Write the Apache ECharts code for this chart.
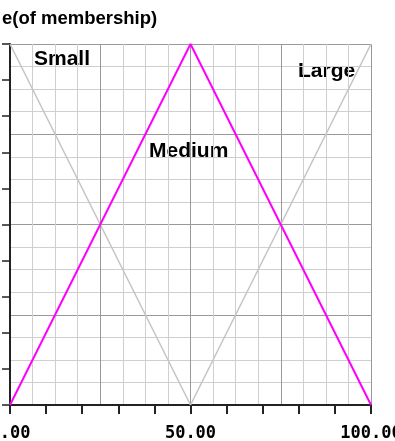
<!DOCTYPE html>
<html>
<head>
<meta charset="utf-8">
<script src="https://cdn.jsdelivr.net/npm/echarts@6/dist/echarts.min.js"></script>
<style>
  html, body { margin: 0; padding: 0; background: #fff; }
  #chart { width: 395px; height: 441px; }
</style>
</head>
<body>
<div id="chart"></div>
<script>
// Triangular membership functions over the input range 0..100
const setNames = ['Small', 'Medium', 'Large'];
const smallX = [0, 50];
const smallY = [1, 0];
const mediumX = [0, 50, 100];
const mediumY = [0, 1, 0];
const largeX = [50, 100];
const largeY = [0, 1];
const xLabelValues = [0, 50, 100];
const axisTitle = 'e(of membership)';

const pairs = (xs, ys) => xs.map((x, i) => [x, ys[i]]);

const chart = echarts.init(document.getElementById('chart'));

const gridAxis = {
  type: 'value',
  axisLabel: { show: false },
  axisTick: { show: false },
  axisLine: { show: true, lineStyle: { color: '#b4b4b4', width: 1 } },
  splitLine: { show: true, lineStyle: { color: '#999999', width: 1 } },
  minorTick: { show: false, splitNumber: 4 },
  minorSplitLine: { show: true, lineStyle: { color: '#cfcfcf', width: 1 } }
};

const labelFont = 'bold 21px "Liberation Sans", Arial, sans-serif';

chart.setOption({
  animation: false,
  backgroundColor: '#ffffff',
  grid: { left: 10, top: 44, width: 361, height: 361, containLabel: false, outerBoundsMode: 'none' },
  xAxis: [
    Object.assign({}, gridAxis, { min: 0, max: 100, interval: 25, position: 'top' }),
    {
      type: 'value', min: 0, max: 100, interval: 10, position: 'bottom',
      axisLine: { show: true, lineStyle: { color: '#222', width: 2 } },
      axisTick: { show: true, length: 9, lineStyle: { color: '#222', width: 2 } },
      splitLine: { show: false },
      axisLabel: {
        show: true, margin: 20, hideOverlap: false,
        formatter: v => xLabelValues.includes(v) ? v.toFixed(2) : '',
        fontFamily: 'DejaVu Sans Mono', fontWeight: 'bold', fontSize: 17, color: '#000'
      }
    }
  ],
  yAxis: [
    Object.assign({}, gridAxis, { min: 0, max: 1, interval: 0.25, position: 'right' }),
    {
      type: 'value', min: 0, max: 1, interval: 0.1, position: 'left',
      axisLine: { show: true, lineStyle: { color: '#222', width: 2 } },
      axisTick: { show: true, length: 8, lineStyle: { color: '#222', width: 1.5 } },
      splitLine: { show: false },
      axisLabel: { show: false }
    }
  ],
  series: [
    {
      name: setNames[0], type: 'line', xAxisIndex: 1, yAxisIndex: 1,
      data: pairs(smallX, smallY), symbol: 'none',
      lineStyle: { color: '#c4c4c4', width: 1.5 }, z: 2
    },
    {
      name: setNames[2], type: 'line', xAxisIndex: 1, yAxisIndex: 1,
      data: pairs(largeX, largeY), symbol: 'none',
      lineStyle: { color: '#c4c4c4', width: 1.5 }, z: 2
    },
    {
      name: setNames[1], type: 'line', xAxisIndex: 1, yAxisIndex: 1,
      data: pairs(mediumX, mediumY), symbol: 'none',
      lineStyle: { color: '#ff00ff', width: 2 }, z: 3
    }
  ],
  graphic: [
    {
      type: 'text', left: 2, top: 9,
      style: { text: axisTitle, font: 'bold 18.5px "Liberation Sans", Arial, sans-serif', fill: '#000' }
    },
    {
      type: 'text', left: 34, top: 49,
      style: { text: setNames[0], font: labelFont, fill: '#000' }
    },
    {
      type: 'text', left: 149, top: 141,
      style: { text: setNames[1], font: labelFont, fill: '#000' }
    },
    {
      type: 'text', left: 298, top: 61,
      style: { text: setNames[2], font: labelFont, fill: '#000' }
    }
  ]
});
</script>
</body>
</html>
